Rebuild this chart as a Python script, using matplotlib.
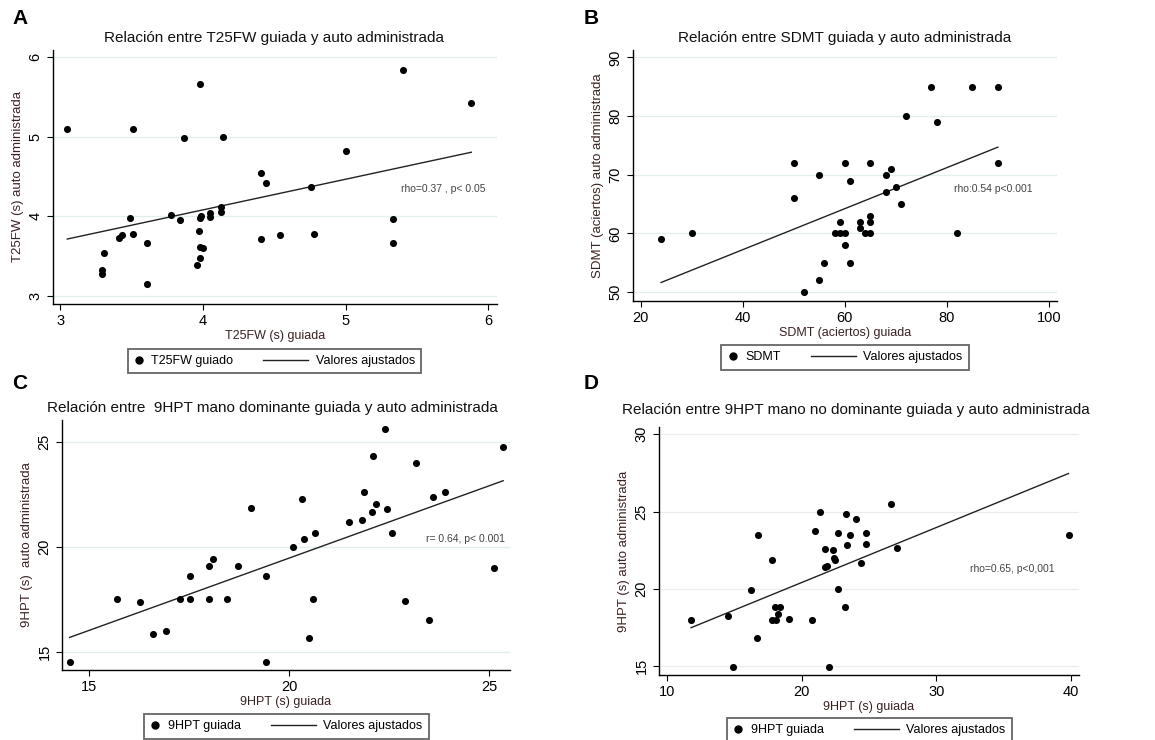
import numpy as np
import matplotlib
matplotlib.use("Agg")
import matplotlib.pyplot as plt
from matplotlib.lines import Line2D
from matplotlib.legend_handler import HandlerLine2D

plt.rcParams['font.family'] = ['Liberation Sans', 'DejaVu Sans']

####################################################
# Data
####################################################

# A: T25FW guiada vs auto administrada (s)
t25_guiada = [3.05, 3.51, 3.87, 3.98, 4.14, 5.40, 5.88, 5.00, 4.41, 4.44, 4.76, 4.13, 4.13,
              4.05, 4.05, 3.99, 3.98, 3.78, 3.84, 3.49, 3.97, 3.98, 4.00, 3.98, 3.96, 3.41,
              3.43, 3.51, 3.61, 3.31, 3.29, 3.29, 3.61, 4.41, 4.54, 4.78, 5.33, 5.33]
t25_auto = [5.10, 5.10, 4.98, 5.66, 5.00, 5.84, 5.43, 4.82, 4.55, 4.42, 4.37, 4.12, 4.05,
            4.04, 3.99, 4.01, 3.98, 4.02, 3.95, 3.98, 3.82, 3.62, 3.60, 3.48, 3.39, 3.73,
            3.77, 3.78, 3.67, 3.54, 3.33, 3.28, 3.15, 3.72, 3.77, 3.78, 3.97, 3.67]
t25_fit = [3.716, 4.806]  # fitted values at min / max guided value

# B: SDMT (aciertos)
sdmt_guiada = [24, 30, 50, 50, 55, 55, 52, 56, 60, 61, 65, 68, 69, 68, 70, 71, 72, 77,
               85, 90, 78, 90, 82, 59, 58, 59, 60, 60, 61, 63, 63, 64, 65, 65, 65]
sdmt_auto = [59, 60, 72, 66, 70, 52, 50, 55, 72, 69, 72, 70, 71, 67, 68, 65, 80, 85,
             85, 85, 79, 72, 60, 62, 60, 60, 60, 58, 55, 62, 61, 60, 60, 62, 63]
sdmt_fit = [51.65, 74.7]

# C: 9HPT mano dominante (s)
hpt_dom_guiada = [14.52, 15.70, 16.27, 16.61, 16.94, 17.28, 17.53, 17.52, 18.01, 18.01,
                  18.11, 18.44, 18.72, 19.06, 19.43, 19.43, 20.11, 20.33, 20.37, 20.66,
                  20.60, 20.49, 21.50, 21.83, 21.88, 22.07, 22.17, 22.11, 22.39, 22.44,
                  22.58, 22.89, 23.18, 23.49, 23.60, 23.90, 25.11, 25.35]
hpt_dom_auto = [14.52, 17.52, 17.38, 15.89, 16.03, 17.52, 17.52, 18.65, 17.52, 19.10,
                19.46, 17.52, 19.10, 21.89, 18.65, 14.52, 20.03, 22.32, 20.38, 20.68,
                17.54, 15.67, 21.22, 21.32, 22.65, 21.70, 22.05, 24.33, 25.63, 21.83,
                20.68, 17.44, 24.00, 16.54, 22.38, 22.62, 19.00, 24.78]
hpt_dom_fit = [15.71, 23.17]

# D: 9HPT mano no dominante (s)
hpt_nodom_guiada = [11.78, 14.53, 14.93, 16.22, 16.66, 16.76, 17.80, 17.80, 17.98, 18.08,
                    18.22, 18.40, 19.07, 20.80, 20.97, 21.35, 21.72, 21.74, 21.89, 22.06,
                    22.31, 22.43, 22.51, 22.66, 22.73, 23.23, 23.28, 23.38, 23.57, 24.02,
                    24.44, 24.81, 24.81, 26.60, 27.07, 39.82]
hpt_nodom_auto = [17.97, 18.23, 14.96, 19.89, 16.81, 23.49, 21.88, 17.97, 18.84, 17.97,
                  18.38, 18.84, 18.06, 17.97, 23.71, 24.96, 22.56, 21.38, 21.49, 14.96,
                  22.48, 21.96, 21.85, 19.98, 23.62, 18.84, 24.83, 22.84, 23.51, 24.50,
                  21.70, 23.62, 22.93, 25.50, 22.63, 23.49]
hpt_nodom_fit = [17.48, 27.46]

W, H = 1155, 740

panels = [
    dict(letter="A", x=t25_guiada, y=t25_auto, fit=t25_fit,
         title="Relación entre T25FW guiada y auto administrada",
         xlabel="T25FW (s) guiada", ylabel="T25FW (s) auto administrada",
         legend="T25FW guiado", note="rho=0.37 , p< 0.05", note_xy=(5.385, 4.35),
         xticks=[3, 4, 5, 6], yticks=[3, 4, 5, 6], xlim=(2.95, 6.06), ylim=(2.9, 6.09),
         box=(53, 497, 50, 304), title_xy=(274, 38), letter_xy=(12, 19),
         leg_xy=(274.5, 349), grid="#cfe6e6", grid_ls=(0, (1, 0.6))),
    dict(letter="B", x=sdmt_guiada, y=sdmt_auto, fit=sdmt_fit,
         title="Relación entre SDMT guiada y auto administrada",
         xlabel="SDMT (aciertos) guiada", ylabel="SDMT (aciertos) auto administrada",
         legend="SDMT", note="rho:0.54 p<0.001", note_xy=(81.5, 67.5),
         xticks=[20, 40, 60, 80, 100], yticks=[50, 60, 70, 80, 90],
         xlim=(18.5, 101.6), ylim=(48.5, 91.25),
         box=(633, 1057, 50, 301), title_xy=(845, 38), letter_xy=(584, 19),
         leg_xy=(845, 345), grid="#cfe6e6", grid_ls=(0, (1, 0.6))),
    dict(letter="C", x=hpt_dom_guiada, y=hpt_dom_auto, fit=hpt_dom_fit,
         title="Relación entre  9HPT mano dominante guiada y auto administrada",
         xlabel="9HPT (s) guiada", ylabel="9HPT (s)  auto administrada",
         legend="9HPT guiada", note="r= 0.64, p< 0.001", note_xy=(23.41, 20.38),
         xticks=[15, 20, 25], yticks=[15, 20, 25], xlim=(14.33, 25.52), ylim=(14.16, 26.06),
         box=(62, 510, 420, 670), title_xy=(272, 408), letter_xy=(12, 383),
         leg_xy=(286.5, 714), grid="#cfe6e6", grid_ls=(0, (1, 0.6))),
    dict(letter="D", x=hpt_nodom_guiada, y=hpt_nodom_auto, fit=hpt_nodom_fit,
         title="Relación entre 9HPT mano no dominante guiada y auto administrada",
         xlabel="9HPT (s) guiada", ylabel="9HPT (s) auto administrada",
         legend="9HPT guiada", note="rho=0.65, p<0,001", note_xy=(32.49, 21.29),
         xticks=[10, 20, 30, 40], yticks=[15, 20, 25, 30], xlim=(9.4, 40.6), ylim=(14.42, 30.47),
         box=(659, 1079, 427, 675), title_xy=(856, 410), letter_xy=(584, 383),
         leg_xy=(869.5, 718), grid="#ececec", grid_ls="-"),
]

label_color = "#3a2222"


class LongLineHandler(HandlerLine2D):
    # stretch the fitted-line handle to the left, like the Stata legend key
    def create_artists(self, legend, orig_handle, xdescent, ydescent, width, height, fontsize, trans):
        y = height / 2 - ydescent
        ext = 2.8 * fontsize
        ln = Line2D([-xdescent - ext, -xdescent + width], [y, y], color="#222222", lw=1.0)
        ln.set_transform(trans)
        return [ln]


fig = plt.figure(figsize=(W / 100, H / 100), dpi=100)

for p in panels:
    l, r, t, b = p["box"]
    ax = fig.add_axes([l / W, 1 - b / H, (r - l) / W, (b - t) / H])
    x = np.array(p["x"])
    y = np.array(p["y"])

    # fitted values (linear fit)
    xf = [x.min(), x.max()]
    ax.plot(xf, p["fit"], color="#222222", lw=1.0, zorder=2)
    ax.scatter(x, y, s=26, color="black", zorder=3, linewidths=0)

    ax.set_xlim(*p["xlim"])
    ax.set_ylim(*p["ylim"])
    ax.set_xticks(p["xticks"])
    ax.set_yticks(p["yticks"])
    ax.tick_params(axis="both", direction="out", length=4, width=0.8, labelsize=10.5, colors="black")
    plt.setp(ax.get_yticklabels(), rotation=90, va="center")
    for s in ["top", "right"]:
        ax.spines[s].set_visible(False)
    for s in ["left", "bottom"]:
        ax.spines[s].set_linewidth(1.0)
    ax.yaxis.grid(True, color=p["grid"], lw=0.9, linestyle=p["grid_ls"])
    ax.set_axisbelow(True)

    ax.set_xlabel(p["xlabel"], fontsize=9, color=label_color, labelpad=1)
    ax.set_ylabel(p["ylabel"], fontsize=9.5, color=label_color, labelpad=3)
    ax.text(p["note_xy"][0], p["note_xy"][1], p["note"], fontsize=7.5, color="#444444",
            ha="left", va="center")

    fig.text(p["title_xy"][0] / W, 1 - p["title_xy"][1] / H, p["title"], fontsize=11,
             ha="center", va="center", color="#111111")
    fig.text(p["letter_xy"][0] / W, 1 - p["letter_xy"][1] / H, p["letter"], fontsize=15,
             fontweight="bold", ha="left", va="center")

    h_dot = Line2D([], [], marker="o", linestyle="none", color="black", markersize=5)
    h_fit = Line2D([], [], color="#222222", lw=1.0)
    leg = fig.legend([h_dot, h_fit], [p["legend"], "Valores ajustados"], ncol=2,
                     loc="upper center", bbox_to_anchor=(p["leg_xy"][0] / W, 1 - p["leg_xy"][1] / H),
                     bbox_transform=fig.transFigure, borderaxespad=0, fontsize=9,
                     handlelength=0.8, handletextpad=0.6, columnspacing=5.2,
                     fancybox=False, framealpha=1, edgecolor="#666666",
                     borderpad=0.5, handler_map={h_fit: LongLineHandler()})
    leg.get_frame().set_linewidth(1.3)

fig.savefig("out.png", dpi=100)
